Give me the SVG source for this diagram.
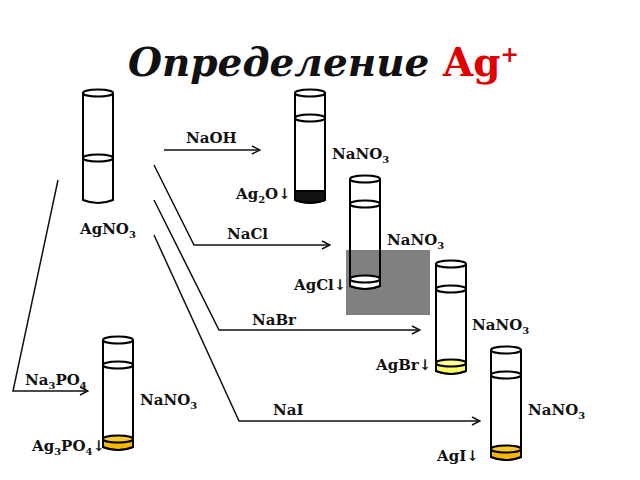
<svg xmlns="http://www.w3.org/2000/svg" width="640" height="480" viewBox="0 0 640 480">
<style>
text{font-family:"DejaVu Serif","Liberation Serif",serif;font-weight:bold;font-size:15px;fill:#111}
.t{fill:#fff;stroke:#000;stroke-width:2}
.e{fill:none;stroke:#000;stroke-width:2}
.c{fill:none;stroke:#111;stroke-width:1.5}
</style>
<defs>
<marker id="a" markerWidth="10" markerHeight="10" refX="9" refY="5" orient="auto" markerUnits="userSpaceOnUse"><path d="M1,1 L9,5 L1,9" fill="none" stroke="#111" stroke-width="1.5"/></marker>
</defs>
<rect width="640" height="480" fill="#fff"/>
<text x="128" y="76" style="font-size:39px;font-style:italic">Определение <tspan fill="#e00000" style="font-style:normal">Ag<tspan dy="-14" font-size="22">+</tspan></tspan></text>
<rect x="346" y="250" width="84" height="65" fill="#808080"/>
<g id="connectors" class="c">
<path d="M164,150 H260" marker-end="url(#a)"/>
<path d="M154,165 L194,245 H330" marker-end="url(#a)"/>
<path d="M154,200 L219,330 H420" marker-end="url(#a)"/>
<path d="M154,235 L239,421 H480" marker-end="url(#a)"/>
<path d="M58,180 L13,391 H88" marker-end="url(#a)"/>
</g>
<g id="tube1"><path class="t" d="M83,93 V200 Q98,206 113,200 V93"/><ellipse class="e" cx="98" cy="93" rx="15" ry="3.5"/><ellipse class="e" cx="98" cy="158" rx="15" ry="3.5"/><text x="80" y="234">AgNO<tspan dy="4" font-size="10">3</tspan></text></g>
<g id="tube2"><path class="t" d="M295,93 V200 Q310,206 325,200 V93"/><path d="M295,191 V200 Q310,206 325,200 V191 Z" fill="#111" stroke="#000" stroke-width="2"/><ellipse class="e" cx="310" cy="93" rx="15" ry="3.5"/><ellipse class="e" cx="310" cy="118" rx="15" ry="3.5"/><text x="332" y="159">NaNO<tspan dy="4" font-size="10">3</tspan></text><text x="236" y="199">Ag<tspan dy="4" font-size="10">2</tspan><tspan dy="-4">O↓</tspan></text></g>
<g id="tube3"><path fill="#fff" d="M350,179 V250 H380 V179 Z"/><path class="e" d="M350,179 V286 Q365,292 380,286 V179"/><path d="M350,279 V286 Q365,292 380,286 V279 Z" fill="#fff" stroke="#000" stroke-width="2"/><ellipse cx="365" cy="279" rx="15" ry="3.5" fill="#fff" stroke="#000" stroke-width="2"/><ellipse class="e" cx="365" cy="179" rx="15" ry="3.5"/><ellipse class="e" cx="365" cy="204" rx="15" ry="3.5"/><text x="387" y="245">NaNO<tspan dy="4" font-size="10">3</tspan></text><text x="294" y="290">AgCl↓</text></g>
<g id="tube4"><path class="t" d="M436,264 V371 Q451,377 466,371 V264"/><path d="M436,363 V371 Q451,377 466,371 V363 Z" fill="#ffff66" stroke="#000" stroke-width="2"/><ellipse cx="451" cy="363" rx="15" ry="3.5" fill="#ffff99" stroke="#000" stroke-width="2"/><ellipse class="e" cx="451" cy="264" rx="15" ry="3.5"/><ellipse class="e" cx="451" cy="289" rx="15" ry="3.5"/><text x="472" y="330">NaNO<tspan dy="4" font-size="10">3</tspan></text><text x="376" y="370">AgBr↓</text></g>
<g id="tube5"><path class="t" d="M491,350 V457 Q506,463 521,457 V350"/><path d="M491,449 V457 Q506,463 521,457 V449 Z" fill="#f5b800" stroke="#000" stroke-width="2"/><ellipse cx="506" cy="449" rx="15" ry="3.5" fill="#f8c830" stroke="#000" stroke-width="2"/><ellipse class="e" cx="506" cy="350" rx="15" ry="3.5"/><ellipse class="e" cx="506" cy="375" rx="15" ry="3.5"/><text x="528" y="415">NaNO<tspan dy="4" font-size="10">3</tspan></text><text x="437" y="461">AgI↓</text></g>
<g id="tube6"><path class="t" d="M103,340 V447 Q118,453 133,447 V340"/><path d="M103,439 V447 Q118,453 133,447 V439 Z" fill="#f5b800" stroke="#000" stroke-width="2"/><ellipse cx="118" cy="439" rx="15" ry="3.5" fill="#f8c830" stroke="#000" stroke-width="2"/><ellipse class="e" cx="118" cy="340" rx="15" ry="3.5"/><ellipse class="e" cx="118" cy="365" rx="15" ry="3.5"/><text x="140" y="405">NaNO<tspan dy="4" font-size="10">3</tspan></text><text x="32" y="451">Ag<tspan dy="4" font-size="10">3</tspan><tspan dy="-4">PO</tspan><tspan dy="4" font-size="10">4</tspan><tspan dy="-4">↓</tspan></text><text x="25" y="385">Na<tspan dy="4" font-size="10">3</tspan><tspan dy="-4">PO</tspan><tspan dy="4" font-size="10">4</tspan></text></g>
<g id="labels"><text x="186" y="143">NaOH</text><text x="227" y="239">NaCl</text><text x="252" y="325">NaBr</text><text x="273" y="415">NaI</text></g>
</svg>
